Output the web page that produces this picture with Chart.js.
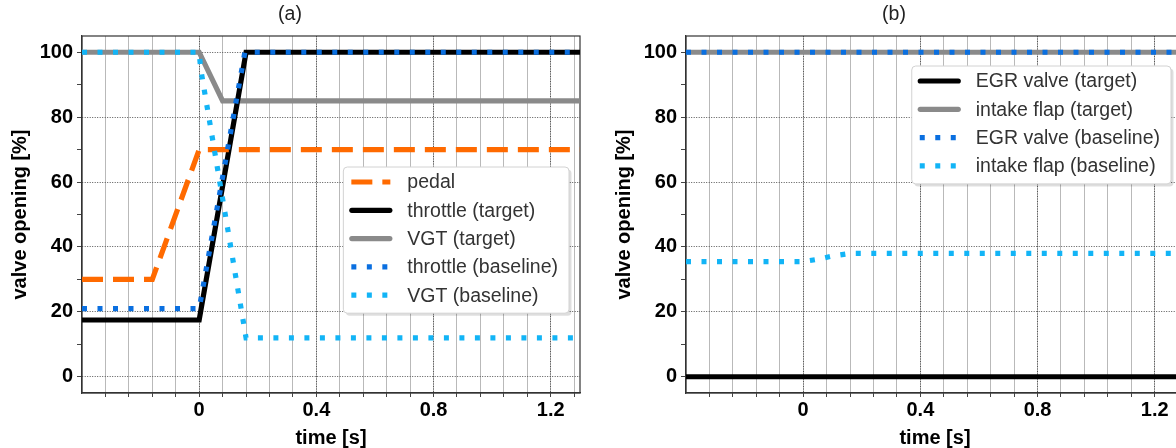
<!DOCTYPE html>
<html>
<head>
<meta charset="utf-8">
<title>valve opening</title>
<script src="https://cdn.jsdelivr.net/npm/chart.js@4.4.1/dist/chart.umd.min.js"></script>
<style>
  html, body { margin: 0; padding: 0; background: #fff; overflow: hidden; }
  body { width: 1176px; height: 448px; position: relative; }
  .panel { position: absolute; top: 0; width: 592px; height: 448px; }
  #panelA { left: 0; }
  #panelB { left: 604px; }
</style>
</head>
<body>
<div class="panel" id="panelA"><canvas id="chartA" width="592" height="448"></canvas></div>
<div class="panel" id="panelB"><canvas id="chartB" width="592" height="448"></canvas></div>
<script>
const FONT = '"Liberation Sans", Arial, sans-serif';

// axes
const xMin = -0.4, xMax = 1.3;
const yMin = -5, yMax = 105;
const xGridTicks = [-0.32, -0.24, -0.16, -0.08, 0, 0.08, 0.16, 0.24, 0.32, 0.4, 0.48,
  0.56, 0.64, 0.72, 0.8, 0.88, 0.96, 1.04, 1.12, 1.2, 1.28];
const xLabelTicks = [0, 0.4, 0.8, 1.2];
const yGridTicks = [0, 10, 20, 30, 40, 50, 60, 70, 80, 90, 100];
const yLabelTicks = [0, 20, 40, 60, 80, 100];

// (a) pedal, throttle, VGT
const pedalT = [-0.4, -0.16, 0, 1.3];
const pedal = [30, 30, 70, 70];
const throttleTargetT = [-0.4, 0, 0.16, 1.3];
const throttleTarget = [17.5, 17.5, 100, 100];
const vgtTargetT = [-0.4, 0, 0.08, 1.3];
const vgtTarget = [100, 100, 85, 85];
const throttleBaseT = [-0.4, 0, 0.156, 1.3];
const throttleBase = [21, 21, 100, 100];
const vgtBaseT = [-0.4, 0, 0.005, 0.16, 1.3];
const vgtBase = [100, 100, 95, 12, 12];

// (b) EGR valve, intake flap
const egrTargetT = [-0.4, 1.3];
const egrTarget = [0, 0];
const flapTargetT = [-0.4, 1.3];
const flapTarget = [100, 100];
const egrBaseT = [-0.4, 1.3];
const egrBase = [100, 100];
const flapBaseT = [-0.4, 0, 0.05, 0.1, 0.16, 1.3];
const flapBase = [35.5, 35.5, 36.2, 37.2, 38, 38];

const ORANGE = '#ff6a00', BLACK = '#000000', GRAY = '#8a8a8a', BLUE = '#0a6fe0', CYAN = '#12b4f6';
const DASHED = [21, 10], DOTTED = [5, 10.5];

const pts = (ts, vs) => ts.map((t, i) => ({ x: t, y: vs[i] }));

function line(label, data, color, dash, order) {
  return {
    label, data, order,
    borderColor: color,
    borderWidth: 5.2,
    borderDash: dash,
    borderCapStyle: 'butt',
    borderJoinStyle: 'miter',
    pointRadius: 0,
    tension: 0,
    fill: false
  };
}

// frame round the plot area
const frame = {
  id: 'frame',
  beforeDatasetsDraw(chart) {
    const { ctx, chartArea: a } = chart;
    ctx.save();
    ctx.strokeStyle = '#333';
    ctx.lineWidth = 1.2;
    ctx.strokeRect(a.left, a.top, a.right - a.left, a.bottom - a.top);
    ctx.restore();
  }
};

// legend box inside the plot
const boxLegend = {
  id: 'boxLegend',
  afterDraw(chart, args, opts) {
    const { ctx, chartArea: a } = chart;
    const sets = chart.data.datasets;
    ctx.save();
    ctx.font = opts.fontSize + 'px ' + FONT;
    const textW = Math.max(...sets.map(d => ctx.measureText(d.label).width));
    const w = 64 + textW + 11;
    const h = 15 + 28.3 * (sets.length - 1) + 18;
    const x = a.right - opts.right - w;
    const y = opts.top;

    const rr = (ox, oy) => {
      ctx.beginPath();
      ctx.roundRect(x + ox, y + oy, w, h, 4);
    };
    rr(2.5, 2.5);
    ctx.fillStyle = 'rgba(0,0,0,0.13)';
    ctx.fill();
    rr(0, 0);
    ctx.fillStyle = '#fff';
    ctx.fill();
    ctx.strokeStyle = '#d2d2d2';
    ctx.lineWidth = 1;
    ctx.stroke();

    sets.forEach((d, i) => {
      const cy = y + 15 + 28.3 * i;
      const solid = !d.borderDash || d.borderDash.length === 0;
      ctx.beginPath();
      ctx.setLineDash(solid ? [] : d.borderDash);
      ctx.lineCap = solid ? 'round' : 'butt';
      ctx.lineWidth = d.borderWidth;
      ctx.strokeStyle = d.borderColor;
      ctx.moveTo(x + (solid ? 8.5 : 8), cy);
      ctx.lineTo(x + (solid ? 46.5 : 47), cy);
      ctx.stroke();
      ctx.setLineDash([]);
      ctx.fillStyle = '#333';
      ctx.textBaseline = 'middle';
      ctx.textAlign = 'left';
      ctx.fillText(d.label, x + 64, cy + 1);
    });
    ctx.restore();
  }
};

function makeOptions(title, legendTop, legendRight) {
  const bold = { family: FONT, size: 20, weight: 'bold', lineHeight: 1 };
  return {
    responsive: false,
    animation: false,
    layout: { padding: { left: 0, right: 12, top: 0, bottom: 0 } },
    plugins: {
      legend: { display: false },
      tooltip: { enabled: false },
      title: {
        display: true, text: title, color: '#222',
        font: { family: FONT, size: 19.5, weight: 'normal', lineHeight: 1.2 },
        padding: { top: 3, bottom: 9.6 }
      },
      boxLegend: { top: legendTop, right: legendRight, fontSize: 19.5 }
    },
    scales: {
      x: {
        type: 'linear', min: xMin, max: xMax,
        afterBuildTicks: s => { s.ticks = xGridTicks.map(v => ({ value: v })); },
        afterFit: s => { s.height = 55; },
        ticks: {
          autoSkip: false, maxRotation: 0, padding: 3, color: '#000', font: bold,
          callback: v => xLabelTicks.includes(v) ? String(v) : ''
        },
        grid: { color: '#b9b9b9', lineWidth: 1, tickLength: 4, tickColor: '#444' },
        border: { color: '#333', width: 1.2 },
        title: { display: true, text: 'time [s]', color: '#000', font: bold, padding: { top: 0, bottom: 0 } }
      },
      xMajor: {
        type: 'linear', position: 'bottom', min: xMin, max: xMax,
        afterBuildTicks: s => { s.ticks = xLabelTicks.map(v => ({ value: v })); },
        afterFit: s => { s.height = 0; },
        ticks: { display: false },
        grid: { color: '#555', lineWidth: 1, drawTicks: false },
        border: { display: false, dash: [1, 1.5] }
      },
      y: {
        type: 'linear', min: yMin, max: yMax,
        afterBuildTicks: s => { s.ticks = yGridTicks.map(v => ({ value: v })); },
        afterFit: s => { s.width = 82; },
        ticks: {
          autoSkip: false, padding: 4, color: '#000', font: bold,
          callback: v => yLabelTicks.includes(v) ? String(v) : ''
        },
        grid: {
          color: c => (c.tick && yLabelTicks.includes(c.tick.value)) ? '#555' : 'rgba(0,0,0,0)',
          lineWidth: 1, tickLength: 5, tickColor: '#444', tickBorderDash: []
        },
        border: { color: '#333', width: 1.2, dash: [1, 1.5] },
        title: { display: true, text: 'valve opening [%]', color: '#000', font: bold, padding: { top: 10, bottom: 0 } }
      }
    }
  };
}

new Chart(document.getElementById('chartA').getContext('2d'), {
  type: 'line',
  data: {
    datasets: [
      line('pedal', pts(pedalT, pedal), ORANGE, DASHED, 2),
      line('throttle (target)', pts(throttleTargetT, throttleTarget), BLACK, [], 3),
      line('VGT (target)', pts(vgtTargetT, vgtTarget), GRAY, [], 4),
      line('throttle (baseline)', pts(throttleBaseT, throttleBase), BLUE, DOTTED, 0),
      line('VGT (baseline)', pts(vgtBaseT, vgtBase), CYAN, DOTTED, 1)
    ]
  },
  options: makeOptions('(a)', 167, 11),
  plugins: [frame, boxLegend]
});

new Chart(document.getElementById('chartB').getContext('2d'), {
  type: 'line',
  data: {
    datasets: [
      line('EGR valve (target)', pts(egrTargetT, egrTarget), BLACK, [], 2),
      line('intake flap (target)', pts(flapTargetT, flapTarget), GRAY, [], 3),
      line('EGR valve (baseline)', pts(egrBaseT, egrBase), BLUE, DOTTED, 0),
      line('intake flap (baseline)', pts(flapBaseT, flapBase), CYAN, DOTTED, 1)
    ]
  },
  options: makeOptions('(b)', 66, 13),
  plugins: [frame, boxLegend]
});
</script>
</body>
</html>
